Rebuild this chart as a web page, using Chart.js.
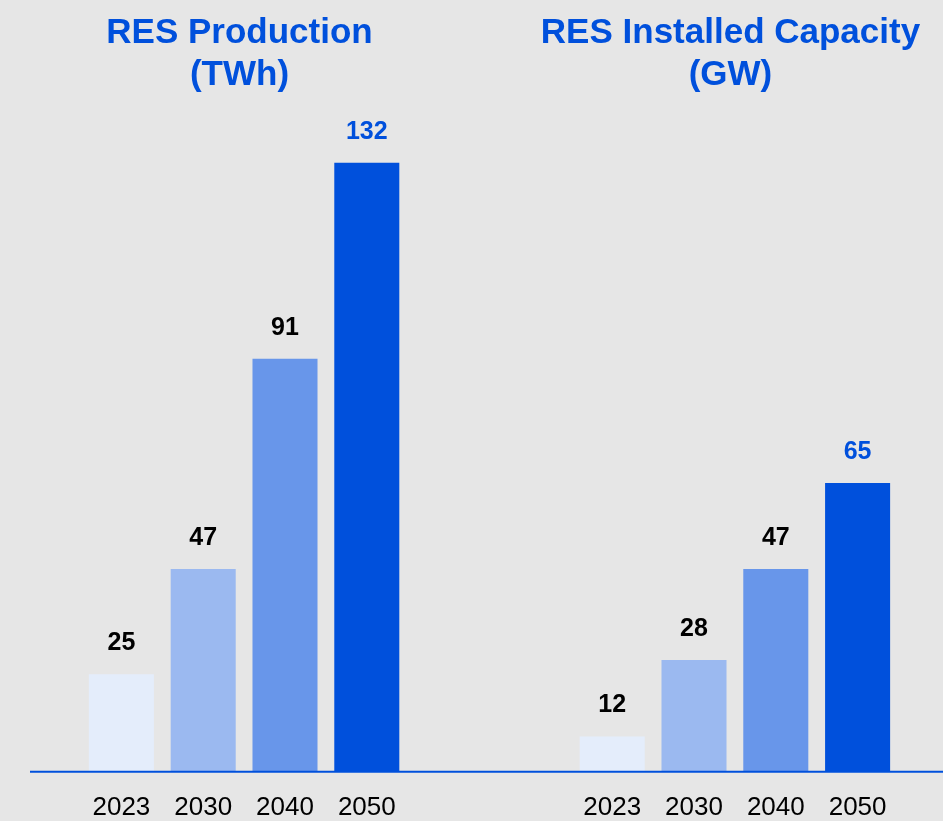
<!DOCTYPE html>
<html>
<head>
<meta charset="utf-8">
<script src="https://cdn.jsdelivr.net/npm/chart.js@4/dist/chart.umd.min.js"></script>
<style>
  html, body { margin: 0; padding: 0; background: #e6e6e6; }
  #wrap { position: relative; width: 943px; height: 821px; overflow: hidden; }
  .title {
    position: absolute; top: 10px; text-align: center;
    font-family: "Liberation Sans", Arial, sans-serif; font-weight: bold;
    font-size: 35px; line-height: 42px; color: #0050dc;
  }
  canvas { position: absolute; left: 0; top: 0; }
</style>
</head>
<body>
<div id="wrap">
  <canvas id="res_chart" width="943" height="821"></canvas>
  <div class="title" style="left:0;width:479px;">RES Production<br>(TWh)</div>
  <div class="title" style="left:518px;width:425px;">RES Installed Capacity<br>(GW)</div>
</div>
<script>
var years = ['2023', '2030', '2040', '2050'];
var production_twh = [25, 47, 91, 132];
var capacity_gw = [12, 28, 47, 65];
var bar_colors = ['#e4edfb', '#9bb9f0', '#6896ea', '#0050dc'];
var label_colors = ['#000000', '#000000', '#000000', '#0050dc'];

// two empty slots between the groups
var gap = ['', ''];
var labels = years.concat(gap, years);
var prod_data = production_twh.concat([null, null, null, null, null, null]);
var cap_data = [null, null, null, null, null, null].concat(capacity_gw);
var colors = bar_colors.concat(['#0000', '#0000'], bar_colors);

const valueLabels = {
  id: 'valueLabels',
  afterDatasetsDraw(chart) {
    const ctx = chart.ctx;
    ctx.save();
    ctx.font = 'bold 25px "Liberation Sans", Arial, sans-serif';
    ctx.textAlign = 'center';
    ctx.textBaseline = 'alphabetic';
    chart.data.datasets.forEach(function (ds, di) {
      const meta = chart.getDatasetMeta(di);
      meta.data.forEach(function (bar, i) {
        const v = ds.data[i];
        if (v === null) return;
        ctx.fillStyle = label_colors[i % 6];
        ctx.fillText(String(v), bar.x, bar.y - 24);
      });
    });
    ctx.restore();
  }
};

const baseLine = {
  id: 'baseLine',
  afterDraw(chart) {
    const ctx = chart.ctx;
    const y = chart.scales.y.getPixelForValue(chart.scales.y.min);
    ctx.save();
    ctx.strokeStyle = '#0050dc';
    ctx.lineWidth = 2;
    ctx.beginPath();
    ctx.moveTo(30, y);
    ctx.lineTo(chart.width, y);
    ctx.stroke();
    ctx.restore();
  }
};

const config = {
  type: 'bar',
  data: {
    labels: labels,
    datasets: [
      { label: 'RES Production (TWh)', data: prod_data, backgroundColor: colors },
      { label: 'RES Installed Capacity (GW)', data: cap_data, backgroundColor: colors }
    ]
  },
  options: {
    responsive: false,
    animation: false,
    layout: { padding: { left: 80.5, right: 44.5, top: 124.5, bottom: -22 } },
    datasets: { bar: { grouped: false, categoryPercentage: 1, barPercentage: 0.795 } },
    plugins: {
      legend: { display: false },
      title: { display: false },
      tooltip: { enabled: false }
    },
    scales: {
      x: {
        grid: { display: false, drawTicks: false },
        border: { display: false },
        ticks: {
          color: '#000000',
          padding: 20,
          autoSkip: false,
          maxRotation: 0,
          font: { family: '"Liberation Sans", Arial, sans-serif', size: 26 }
        }
      },
      y: {
        display: false,
        min: 4.6,
        max: 140
      }
    }
  },
  plugins: [valueLabels, baseLine]
};

const myChart = new Chart(document.getElementById('res_chart'), config);
</script>
</body>
</html>
